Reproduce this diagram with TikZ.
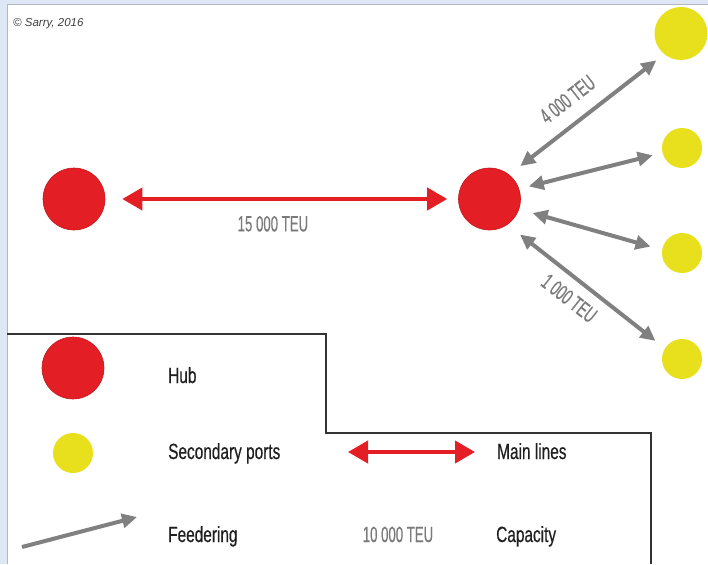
\documentclass[tikz,border=0pt]{standalone}
\usepackage{fontspec}
\setmainfont{Liberation Sans}
\newfontfamily\condfont[FakeStretch=0.7,FakeBold=0.4]{Liberation Sans}
\newfontfamily\numfont[FakeStretch=0.6,FakeBold=0.4]{Liberation Sans}
\definecolor{hubred}{RGB}{227,30,36}
\definecolor{portyellow}{RGB}{232,224,28}
\definecolor{feedgray}{RGB}{128,128,128}
\definecolor{frameblue}{RGB}{221,231,245}
\usetikzlibrary{arrows.meta}

\begin{document}
\begin{tikzpicture}[x=1pt,y=-1pt,hub/.style={circle,fill=hubred,draw=hubred!85!black,line width=0.6pt,minimum size=62pt,inner sep=0pt},port/.style={circle,fill=portyellow,minimum size=40pt,inner sep=0pt},mainline/.style={hubred,line width=4pt,{Triangle[length=20pt,width=22pt]}-{Triangle[length=20pt,width=22pt]}},feeder/.style={feedgray,line width=4pt,{Triangle[length=15pt,width=14pt]}-{Triangle[length=15pt,width=14pt]}},teu/.style={text=feedgray!95!black,font=\numfont\fontsize{22}{26}\selectfont,inner sep=0pt},key/.style={anchor=base west,text=black!88,font=\condfont\fontsize{22}{26}\selectfont,inner sep=0pt}]

\useasboundingbox (0,0) rectangle (708,564);
\fill[white] (0,0) rectangle (708,564);
\fill[frameblue] (0,0) rectangle (7,564);
\fill[frameblue] (0,0) rectangle (708,4);
\draw[frameblue!55!gray,line width=0.8pt] (7,564) -- (7,4) -- (708,4);
\node[anchor=west,font=\itshape\fontsize{11.5}{13}\selectfont,text=black!75,inner sep=0pt] (credit) at (13,24) {© Sarry, 2016};

\node[hub] (hubA) at (74,199) {};
\node[hub] (hubB) at (489.5,199) {};
\node[port,minimum size=53pt] (portA) at (681,33.5) {};
\node[port] (portB) at (682,148) {};
\node[port] (portC) at (682,253) {};
\node[port] (portD) at (682,359) {};

\draw[mainline,shorten <=17pt,shorten >=11pt] (hubA) -- node[teu,pos=0.475,below=15pt]{15 000 TEU} (hubB);
\draw[feeder,shorten <=14pt,shorten >=10pt] (hubB.51) -- node[teu,sloped,pos=0.47,above=14pt]{4 000 TEU} (portA.231);
\draw[feeder,shorten <=10pt,shorten >=10pt] (hubB.19) -- (portB.194);
\draw[feeder,shorten <=14pt,shorten >=12pt] (hubB.-19) -- (portC.171);
\draw[feeder,shorten <=16pt,shorten >=12pt] (hubB.-55) -- node[teu,sloped,pos=0.47,below=10pt]{1 000 TEU} (portD.148);

\draw[black!80,line width=1.5pt] (7,334) -- (326,334) -- (326,433) -- (651,433) -- (651,564);
\node[hub] (keyhub) at (73,368) {};
\node[port] (keyport) at (73,453) {};
\coordinate (feedtail) at (22,547);
\coordinate (feedhead) at (137,517);
\draw[feedgray,line width=4pt,-{Triangle[length=15pt,width=14pt]}] (feedtail) -- (feedhead);
\coordinate (mainleft) at (348,452);
\coordinate (mainright) at (475,452);
\draw[mainline] (mainleft) -- (mainright);
\node[key] (hubtext) at (168,383) {Hub};
\node[key] (porttext) at (168,459) {Secondary ports};
\node[key] (feedtext) at (168,542) {Feedering};
\node[key] (maintext) at (497,459) {Main lines};
\node[key] (captext) at (496,542) {Capacity};
\node[teu,anchor=base] (capvalue) at (398,542) {10 000 TEU};
\end{tikzpicture}
\end{document}
